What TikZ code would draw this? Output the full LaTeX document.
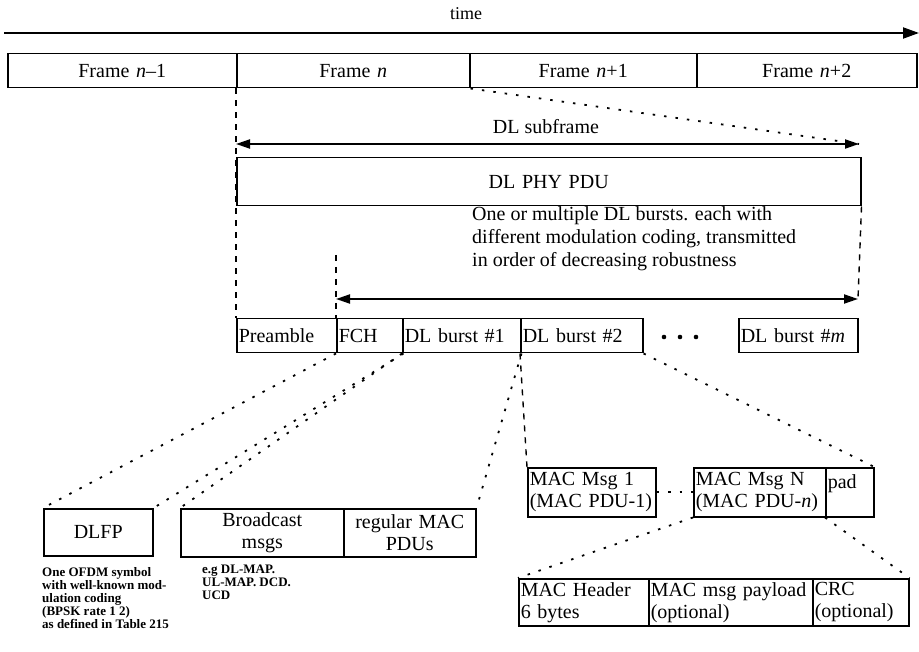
\documentclass[tikz,border=0pt]{standalone}
\usepackage{fontspec}
\setmainfont{Liberation Serif}
\usetikzlibrary{arrows.meta}
\begin{document}
\begin{tikzpicture}[x=1pt,y=-1pt,
  font=\fontsize{20}{22}\selectfont,
  bx/.style={draw, line width=1.5pt, anchor=north west, inner xsep=2pt, inner ysep=0pt},
  lt/.style={align=left},
  ct/.style={align=center},
  dotline/.style={line width=1.8pt, dash pattern=on 2.5pt off 9pt},
  dashline/.style={line width=1.4pt, dash pattern=on 6pt off 6pt},
  dbl/.style={line width=2pt, {Triangle[length=14pt,width=9pt]}-{Triangle[length=14pt,width=9pt]}},
  small/.style={font=\fontsize{13}{13}\selectfont\bfseries, align=left, anchor=north west, inner sep=0pt}
]
\useasboundingbox (0,0) rectangle (919,652);

% time axis
\node (time) at (466,14) {\fontsize{18}{20}\selectfont time};
\coordinate (t0) at (4,33);
\coordinate (t1) at (919,33);
\draw[line width=2pt, -{Triangle[length=16pt,width=11pt]}] (t0) -- (t1);

% frames
\node[bx, ct, text width=225pt, minimum height=34pt] (fprev) at (7,53) {Frame \textit{n}–1};
\node[bx, ct, text width=229pt, minimum height=34pt] (fn) at (236,53) {Frame \textit{n}};
\node[bx, ct, text width=223pt, minimum height=34pt] (fn1) at (469,53) {Frame \textit{n}+1};
\node[bx, ct, text width=216pt, minimum height=34pt] (fn2) at (696,53) {Frame \textit{n}+2};

% DL subframe
\coordinate (s1) at (236,144);
\coordinate (s2) at (859,144);
\node (sublbl) at (546,127) {DL subframe};
\draw[dbl] (s1) -- (s2);
\draw[dotline] (fn.south east) -- (s2);

\node[bx, ct, text width=620pt, minimum height=48pt] (phy) at (236,157) {DL PHY PDU};

\node[align=left, anchor=north west, inner sep=0pt] (desc) at (472,206)
  {One or multiple DL bursts. each with\\[1pt] different modulation coding, transmitted\\[1pt] in order of decreasing robustness};

% bursts row
\node[bx, lt, text width=96pt, minimum height=34pt] (pre) at (236,318) {Preamble};
\node[bx, lt, text width=62pt, minimum height=34pt] (fch) at (336,318) {FCH};
\node[bx, lt, text width=114pt, minimum height=34pt] (b1) at (402,318) {DL burst \#1};
\node[bx, lt, text width=118pt, minimum height=34pt] (b2) at (520,318) {DL burst \#2};
\node[bx, lt, text width=115pt, minimum height=34pt] (bm) at (738,318) {DL burst \#\textit{m}};
\fill (664,337) circle (2.3pt) (680,337) circle (2.3pt) (696,337) circle (2.3pt);

\draw[dashline] (fn.south west) -- (pre.north west);
\coordinate (a1) at (336,255);
\coordinate (a2) at (858,299);
\draw[dashline] (a1) -- (fch.north west);
\draw[dashline] (phy.south east) -- (a2);
\draw[dbl] (336,299) -- (a2);

% lower boxes
\node[bx, ct, text width=105pt, minimum height=47pt] (dlfp) at (43,508) {DLFP};
\node[bx, ct, text width=159pt, minimum height=48pt] (bc) at (180,508) {Broadcast\\msgs};
\node[bx, ct, text width=128pt, minimum height=48pt] (reg) at (343,508) {regular MAC\\PDUs};

\node[small] (note1) at (42,567) {One OFDM symbol\\with well-known mod-\\ulation coding\\(BPSK rate 1 2)\\as defined in Table 215};
\node[small] (note2) at (202,565) {e.g DL-MAP.\\UL-MAP. DCD.\\UCD};

\node[bx, lt, text width=124pt, minimum height=49pt] (m1) at (527,467) {MAC Msg 1\\(MAC PDU-1)};
\node[bx, lt, text width=128pt, minimum height=49pt] (mn) at (693,467) {MAC Msg N\\(MAC PDU-\textit{n})};
\node[bx, lt, text width=44pt, minimum height=49pt] (pad) at (825,467) {pad\\~};

\node[bx, lt, text width=126pt, minimum height=47pt] (hdr) at (518,578) {MAC Header\\6 bytes};
\node[bx, lt, text width=160pt, minimum height=47pt] (pay) at (648,578) {MAC msg payload\\(optional)};
\node[bx, lt, text width=92pt, minimum height=47pt] (crc) at (812,578) {CRC\\(optional)};

% expansion lines
\draw[dotline] (fch.south west) -- (dlfp.north west);
\draw[dotline] (fch.south east) -- (dlfp.north east);
\draw[dotline] (b1.south west) -- (bc.north west);
\draw[dotline] (b1.south east) -- (reg.north east);
\draw[dashline] (b2.south west) -- (m1.north west);
\draw[dotline] (b2.south east) -- (pad.north east);
\draw[dotline] (m1.east) -- (mn.west);
\draw[dotline] (mn.south west) -- (hdr.north west);
\draw[dotline] (pad.south west) -- (crc.north east);
\end{tikzpicture}
\end{document}
